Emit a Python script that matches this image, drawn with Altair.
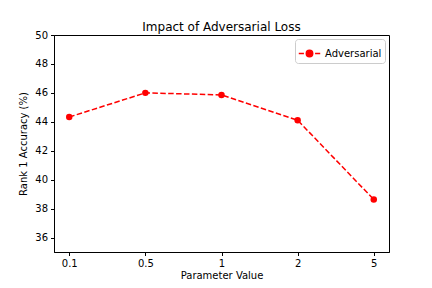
import altair as alt
import pandas as pd

params = ["0.1", "0.5", "1", "2", "5"]
accuracy = [44.33, 46.0, 45.86, 44.11, 38.63]
series = ["Adversarial"] * 5

df = pd.DataFrame({"param": params, "acc": accuracy, "series": series})

FONT = "DejaVu Sans"
legend_path = ("M -1 0 L -0.52 0 M 0.52 0 L 1 0 "
               "M -0.3 0 A 0.3 0.3 0 1 1 0.3 0 A 0.3 0.3 0 1 1 -0.3 0 Z")

x = alt.X("param:N", sort=params, title="Parameter Value",
          scale=alt.Scale(type="point", padding=0.2),
          axis=alt.Axis(labelAngle=0))
y = alt.Y("acc:Q", title="Rank 1 Accuracy (%)",
          scale=alt.Scale(domain=[35, 50], nice=False, zero=False),
          axis=alt.Axis(values=[36, 38, 40, 42, 44, 46, 48, 50]))

line = alt.Chart(df).mark_line(strokeDash=[5.5, 2.4], strokeWidth=1.5).encode(
    x=x, y=y,
    color=alt.Color("series:N",
                    scale=alt.Scale(domain=["Adversarial"], range=["red"]),
                    legend=alt.Legend(title=None, orient="top-right",
                                      symbolType=legend_path, symbolSize=460,
                                      symbolStrokeWidth=1.5,
                                      symbolFillColor="red",
                                      symbolStrokeColor="red",
                                      symbolDash=[100, 0],
                                      labelFontSize=10, labelFont=FONT,
                                      labelColor="black",
                                      strokeColor="#cccccc", cornerRadius=3,
                                      fillColor="white", padding=3,
                                      offset=4))
)
points = alt.Chart(df).mark_point(filled=True, size=42, opacity=1, color="red").encode(
    x=x, y=y
)

chart = (line + points).properties(
    width=335, height=217,
    title=alt.TitleParams("Impact of Adversarial Loss", fontSize=12,
                          fontWeight="normal", font=FONT, color="black", offset=-4),
    autosize=alt.AutoSizeParams(type="none"),
    padding={"left": 46, "top": 27, "right": 35, "bottom": 28},
).configure_view(stroke="black", strokeWidth=1).configure_axis(
    domainColor="black", tickColor="black", labelColor="black", titleColor="black",
    labelFont=FONT, titleFont=FONT, labelFontSize=10, titleFontSize=10,
    titleFontWeight="normal", tickSize=3.5, labelPadding=3, grid=False,
).configure_axisY(titlePadding=6).configure_axisX(titlePadding=2)

chart.save("out.html", embed_options={"renderer": "svg", "actions": False})
